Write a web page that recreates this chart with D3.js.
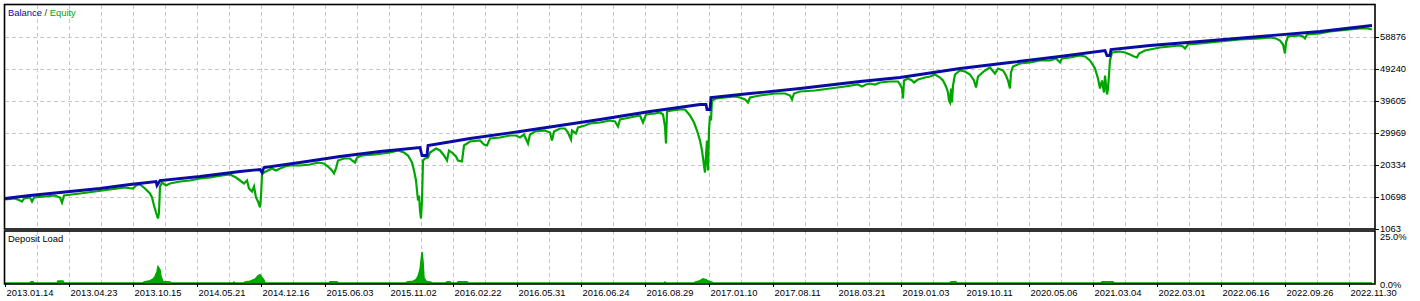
<!DOCTYPE html>
<html><head><meta charset="utf-8">
<script src="https://cdn.jsdelivr.net/npm/d3@7"></script>
<style>
html,body{margin:0;padding:0;background:#fff;}
svg{display:block;font-family:"Liberation Sans",Arial,sans-serif;}
</style></head>
<body>
<svg id="c" width="1420" height="301"></svg>
<script>
// ---- data (x = deal index, y = account value) ----
const dateLabels = ["2013.01.14","2013.04.23","2013.10.15","2014.05.21","2014.12.16","2015.06.03","2015.11.02","2016.02.22","2016.05.31","2016.06.24","2016.08.29","2017.01.10","2017.08.11","2018.03.21","2019.01.03","2019.10.11","2020.05.06","2021.03.04","2022.03.01","2022.06.16","2022.09.26","2022.11.30"];
const valueTicks = [1063,10698,20334,29969,39605,49240,58876];
const valueMax = 68512;
const loadTicks = [0,25];

const balance = [[0,10096],[25,10999],[55,11903],[95,13107],[125,14311],[151,15215],[152,14010],[155,15516],[195,16721],[235,18227],[255,18829],[257,17926],[259,19431],[295,20937],[335,22743],[375,24249],[415,25453],[417,23044],[422,23044],[423,26055],[465,28163],[515,30271],[555,32077],[595,33884],[645,36293],[695,38400],[701,38400],[702,36895],[705,36895],[706,40508],[745,41713],[795,43218],[855,45326],[895,46531],[955,49241],[1005,51048],[1055,52854],[1100,54661],[1102,53155],[1105,53155],[1106,54962],[1145,56166],[1195,57371],[1255,58876],[1315,60382],[1367,62188]];

const equity = [[0,9795],[10,10096],[15,9494],[17,9193],[19,10096],[25,10397],[27,9193],[29,10397],[40,10698],[50,10999],[55,10397],[57,8892],[59,10999],[75,11602],[90,12204],[105,12806],[120,13408],[128,13107],[131,14010],[135,14311],[140,13107],[143,12204],[145,11602],[147,10397],[149,7988],[151,5881],[153,4074],[154,5881],[155,13709],[157,14914],[161,14010],[165,14613],[170,14914],[175,15215],[185,15516],[195,16119],[205,16420],[217,17022],[225,17323],[231,16420],[235,15516],[239,14613],[242,15516],[244,13107],[247,12204],[249,13709],[251,10397],[253,9193],[255,7386],[256,10698],[257,17323],[259,17926],[263,18528],[267,19130],[271,18528],[275,19130],[280,19732],[285,20033],[291,20033],[295,20033],[305,20334],[313,20937],[319,20636],[323,19732],[327,18528],[329,17624],[331,19130],[333,21539],[339,22141],[345,22141],[347,21539],[350,20937],[352,22442],[357,23044],[370,23345],[385,23947],[393,24550],[399,23947],[403,23044],[407,20937],[409,18528],[411,15516],[412,12505],[413,9494],[414,10999],[415,6483],[416,4074],[417,9494],[418,21539],[420,22141],[423,22442],[425,23947],[431,25152],[435,24550],[439,23044],[442,21539],[444,24550],[447,23947],[451,22743],[453,21539],[457,21238],[459,26055],[465,27260],[475,27561],[479,26356],[482,26055],[485,28163],[495,28464],[505,29066],[511,29066],[515,28464],[519,29367],[523,26657],[525,29367],[530,30271],[540,30572],[545,29969],[547,27561],[549,30271],[555,31174],[560,31174],[563,29969],[566,27862],[567,30572],[571,29668],[573,31475],[580,32077],[585,32679],[595,32980],[605,33583],[610,33282],[613,31776],[615,33884],[620,34185],[630,34787],[635,35088],[638,32980],[641,35389],[650,35691],[655,35992],[658,35389],[660,31776],[661,26657],[662,36293],[667,36594],[675,36895],[680,36895],[685,35088],[689,32980],[692,30572],[695,27561],[697,24550],[699,20033],[700,17926],[701,23044],[702,27561],[703,18528],[704,30572],[705,35088],[706,33583],[707,39605],[711,40207],[720,40508],[730,40809],[735,40508],[740,39906],[743,39003],[745,40508],[755,41110],[770,41713],[780,41713],[785,41110],[787,39906],[789,41713],[795,42315],[810,42616],[825,43218],[840,43820],[853,44422],[857,43820],[861,44422],[865,44723],[870,44422],[875,45025],[885,45326],[893,45326],[895,44422],[897,43218],[898,40207],[899,45627],[903,46230],[907,45627],[909,45025],[913,45928],[920,46531],[925,46832],[930,47434],[935,46531],[938,45627],[941,43820],[943,42014],[944,39605],[945,39003],[946,43218],[947,39003],[948,44121],[950,47434],[955,48637],[960,48336],[965,47434],[969,45627],[971,43519],[973,46832],[980,48637],[985,49542],[990,47735],[993,49241],[998,48637],[1001,47133],[1003,45627],[1005,43218],[1006,48035],[1008,49843],[1015,50747],[1025,51048],[1035,51650],[1045,51650],[1051,52252],[1055,51048],[1057,52252],[1065,52553],[1075,53155],[1080,52854],[1085,51650],[1090,49241],[1093,46230],[1095,43218],[1097,45627],[1099,42014],[1100,47133],[1102,41412],[1103,43218],[1105,51650],[1107,54059],[1115,54360],[1120,54059],[1125,53456],[1129,52854],[1132,52553],[1134,53758],[1140,54661],[1145,54962],[1155,55564],[1165,55865],[1175,56166],[1178,55865],[1180,55263],[1183,56467],[1195,56768],[1215,57371],[1235,57973],[1255,58274],[1265,58575],[1271,58274],[1275,57672],[1278,56467],[1280,53758],[1281,57070],[1283,58876],[1295,59177],[1298,58876],[1300,58274],[1302,59478],[1315,59779],[1325,60382],[1335,60683],[1345,60984],[1355,61285],[1363,61285],[1367,60984]];

const depositLoad = [[0,0],[25,0],[26,0.6],[28,0.6],[29,0],[52,0],[53,1.1],[58,1.1],[59,0],[138,0],[139,0.5],[145,1.2],[148,2.1],[150,3.4],[152,6],[153,8.7],[155,7],[156,3.4],[158,0.8],[165,0.6],[166,0],[228,0],[229,0.5],[230,0],[239,0],[240,0.6],[245,1],[250,2],[253,3.8],[255,4.4],[257,3],[259,1.6],[260,0],[324,0],[325,0.6],[332,0.6],[333,0],[401,0],[402,0.5],[408,1],[411,1.8],[413,3.5],[415,7],[416,11.5],[417,16.5],[418,11.5],[419,2.7],[421,1],[426,0.4],[427,0],[441,0],[442,0.7],[445,0.7],[446,0],[452,0],[453,0.6],[462,0.6],[463,0],[659,0],[660,0.5],[661,0],[689,0],[690,0.5],[695,1.2],[698,2.2],[701,1.8],[704,0.9],[707,0.4],[708,0],[945,0],[946,0.6],[951,0.6],[952,0],[1096,0],[1097,0.6],[1108,0.6],[1109,0],[1367,0]];

// ---- layout ----
const svg = d3.select("#c");
const L = 4.5, R = 1375, T1 = 4.5, B1 = 229, T2 = 231, B2 = 284;
const BLUE = "#0a0aa4", GREEN = "#00a600", GRID = "#c8c8c8";

const x = d3.scaleLinear().domain([0, 1367]).range([5, 1372]);
const y = d3.scaleLinear().domain([valueTicks[0], valueMax]).range([228.5, 4.5]);
const yl = d3.scaleLinear().domain(loadTicks).range([283, 236]);

svg.append("rect").attr("width",1420).attr("height",301).attr("fill","#fff");

// vertical grid lines (both panels)
const gx = d3.range(32, 1367, 32);
const grid = svg.append("g").attr("stroke", GRID).attr("stroke-width",1).attr("stroke-dasharray","4,3").attr("shape-rendering","crispEdges");
grid.selectAll("line.v1").data(gx).join("line").attr("class","v1")
  .attr("x1", d => Math.round(x(d)) + 0.5).attr("x2", d => Math.round(x(d)) + 0.5)
  .attr("y1", T1).attr("y2", B1);
grid.selectAll("line.v2").data(gx).join("line").attr("class","v2")
  .attr("x1", d => Math.round(x(d)) + 0.5).attr("x2", d => Math.round(x(d)) + 0.5)
  .attr("y1", T2).attr("y2", B2);
// horizontal grid lines
grid.selectAll("line.h").data(valueTicks.slice(1)).join("line").attr("class","h")
  .attr("x1", L).attr("x2", R)
  .attr("y1", d => Math.round(y(d)) + 0.5).attr("y2", d => Math.round(y(d)) + 0.5);

// equity + balance lines
svg.append("clipPath").attr("id","cp").append("rect").attr("x",L).attr("y",T1).attr("width",R-L).attr("height",B1-T1);
const line = d3.line().x(d => x(d[0])).y(d => y(d[1]));
svg.append("path").datum(equity).attr("d", line).attr("fill","none")
  .attr("stroke", GREEN).attr("stroke-width", 2.2).attr("clip-path","url(#cp)");
svg.append("path").datum(balance).attr("d", line).attr("fill","none")
  .attr("stroke", BLUE).attr("stroke-width", 2.8).attr("clip-path","url(#cp)");

// deposit load
const area = d3.area().x(d => x(d[0])).y0(yl(0)).y1(d => yl(d[1]));
svg.append("path").datum(depositLoad).attr("d", area).attr("fill", GREEN);
svg.append("path").datum(depositLoad).attr("d", d3.line().x(d => x(d[0])).y(d => yl(d[1])))
  .attr("fill","none").attr("stroke", GREEN).attr("stroke-width", 1.5);

// panel borders
svg.append("rect").attr("x",L).attr("y",T1).attr("width",R-L).attr("height",B1-T1)
  .attr("fill","none").attr("stroke","#000").attr("stroke-width",1.6);
svg.append("rect").attr("x",L).attr("y",T2).attr("width",R-L).attr("height",B2-T2)
  .attr("fill","none").attr("stroke","#000").attr("stroke-width",1.6);

// right axis ticks & labels
const ax = svg.append("g").attr("font-size","9.4px").attr("fill","#000");
ax.selectAll("line.t").data(valueTicks).join("line").attr("class","t")
  .attr("x1", R).attr("x2", R + 4)
  .attr("y1", d => Math.round(y(d)) + 0.5).attr("y2", d => Math.round(y(d)) + 0.5)
  .attr("stroke","#000").attr("stroke-width",1);
ax.selectAll("text.v").data(valueTicks).join("text").attr("class","v")
  .attr("x", R + 5).attr("y", d => y(d) + 3.5).text(d => d);
ax.selectAll("text.l").data(loadTicks).join("text").attr("class","l")
  .attr("x", R + 5).attr("y", d => yl(d) + (d === 0 ? 4.5 : 4)).text(d => d3.format(".1f")(d) + "%");

// bottom date labels
const bx = dateLabels.map((s, i) => [i * 64, s]);
const bot = svg.append("g").attr("font-size","9.4px").attr("fill","#000");
bot.selectAll("line").data(bx).join("line")
  .attr("x1", d => Math.round(x(d[0])) + 0.5).attr("x2", d => Math.round(x(d[0])) + 0.5)
  .attr("y1", B2).attr("y2", B2 + 3).attr("stroke","#000");
bot.selectAll("text").data(bx).join("text")
  .attr("x", d => x(d[0]) + 1.5).attr("y", 295.5).text(d => d[1]);

// titles
const t = svg.append("text").attr("x", 8).attr("y", 16.3).attr("font-size","9.4px");
t.append("tspan").attr("fill", BLUE).text("Balance");
t.append("tspan").attr("fill", "#333").text(" / ");
t.append("tspan").attr("fill", GREEN).text("Equity");
svg.append("text").attr("x", 8).attr("y", 241.5).attr("font-size","9.4px").attr("fill","#000").text("Deposit Load");
</script>
</body></html>
